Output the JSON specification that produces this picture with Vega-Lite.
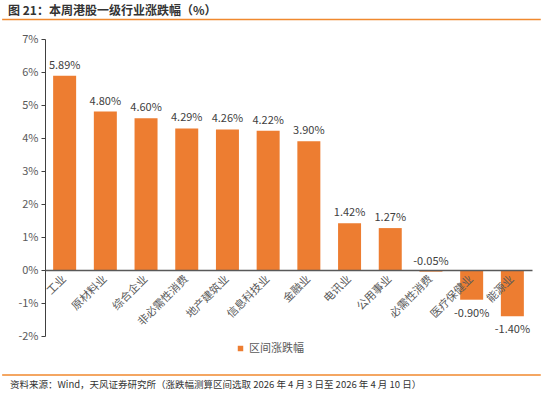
{
  "$schema": "https://vega.github.io/schema/vega-lite/v6.json",
  "width": 487,
  "height": 297,
  "autosize": {"type": "none"},
  "padding": {"left": 45, "top": 39, "right": 18, "bottom": 58},
  "background": "white",
  "config": {
    "font": "Noto Sans CJK SC",
    "view": {"stroke": null},
    "locale": {"number": {"decimal": ".", "thousands": ",", "grouping": [3], "currency": ["", ""], "minus": "-"}},
    "axisY": {
      "title": null, "format": ".0%", "grid": false, "domainColor": "#404040", "tickColor": "#404040",
      "tickSize": 4, "labelColor": "#595959", "labelFontSize": 11, "labelPadding": 3, "labelOverlap": false
    }
  },
  "title": {
    "text": "图 21：本周港股一级行业涨跌幅（%）",
    "anchor": "start",
    "frame": "group",
    "dx": -37,
    "offset": 1,
    "fontSize": 12,
    "fontWeight": "bold",
    "color": "#333333"
  },
  "data": {
    "values": [
      {"cat": "工业", "v": 0.0589},
      {"cat": "原材料业", "v": 0.048},
      {"cat": "综合企业", "v": 0.046},
      {"cat": "非必需性消费", "v": 0.0429},
      {"cat": "地产建筑业", "v": 0.0426},
      {"cat": "信息科技业", "v": 0.0422},
      {"cat": "金融业", "v": 0.039},
      {"cat": "电讯业", "v": 0.0142},
      {"cat": "公用事业", "v": 0.0127},
      {"cat": "必需性消费", "v": -0.0005},
      {"cat": "医疗保健业", "v": -0.009},
      {"cat": "能源业", "v": -0.014}
    ]
  },
  "resolve": {"scale": {"x": "independent"}},
  "layer": [
    {
      "layer": [
        {
          "mark": {"type": "bar", "color": "#ED7D31"},
          "encoding": {
            "x": {
              "field": "cat", "type": "nominal", "sort": null,
              "scale": {"paddingInner": 0.435, "paddingOuter": 0.2},
              "axis": {
                "title": null, "offset": -66, "labelAngle": -45, "labelAlign": "right",
                "labelBaseline": "middle", "ticks": false, "domainColor": "#595959",
                "domainWidth": 1.5, "labelPadding": 7, "labelFontSize": 11,
                "labelColor": "#595959", "zindex": 1
              }
            },
            "y": {
              "field": "v", "type": "quantitative",
              "scale": {"domain": [-0.02, 0.07], "nice": false, "zero": false},
              "axis": {"values": [-0.02, -0.01, 0, 0.01, 0.02, 0.03, 0.04, 0.05, 0.06, 0.07]}
            },
            "color": {
              "datum": "区间涨跌幅",
              "scale": {"range": ["#ED7D31"]},
              "legend": {
                "title": null, "orient": "none", "legendX": 190, "legendY": 304,
                "symbolType": "square", "symbolSize": 30, "symbolStrokeWidth": 0,
                "labelFontSize": 11, "labelColor": "#595959", "labelOffset": 3
              }
            }
          }
        },
        {
          "transform": [{"filter": "datum.v > -0.001"}],
          "mark": {"type": "text", "baseline": "bottom", "dy": -5, "fontSize": 11, "color": "#404040"},
          "encoding": {
            "x": {"field": "cat", "type": "nominal", "sort": null},
            "y": {"field": "v", "type": "quantitative", "axis": {"values": [-0.02, -0.01, 0, 0.01, 0.02, 0.03, 0.04, 0.05, 0.06, 0.07]}},
            "text": {"field": "v", "format": ".2%"}
          }
        },
        {
          "transform": [{"filter": "datum.v <= -0.001"}],
          "mark": {"type": "text", "baseline": "top", "dy": 8, "fontSize": 11, "color": "#404040"},
          "encoding": {
            "x": {"field": "cat", "type": "nominal", "sort": null},
            "y": {"field": "v", "type": "quantitative", "axis": {"values": [-0.02, -0.01, 0, 0.01, 0.02, 0.03, 0.04, 0.05, 0.06, 0.07]}},
            "text": {"field": "v", "format": ".2%"}
          }
        }
      ]
    },
    {
      "data": {"values": [{}]},
      "mark": {"type": "rule", "color": "#F0892E", "strokeWidth": 1.6},
      "encoding": {
        "x": {"datum": -0.088, "type": "quantitative", "scale": {"domain": [0, 1]}, "axis": null},
        "x2": {"datum": 1.018},
        "y": {"datum": 0.0759, "type": "quantitative", "axis": {"values": [-0.02, -0.01, 0, 0.01, 0.02, 0.03, 0.04, 0.05, 0.06, 0.07]}}
      }
    },
    {
      "data": {"values": [{}]},
      "mark": {"type": "rule", "color": "#F0892E", "strokeWidth": 1.6},
      "encoding": {
        "x": {"datum": -0.088, "type": "quantitative", "scale": {"domain": [0, 1]}, "axis": null},
        "x2": {"datum": 1.018},
        "y": {"datum": -0.0318, "type": "quantitative", "axis": {"values": [-0.02, -0.01, 0, 0.01, 0.02, 0.03, 0.04, 0.05, 0.06, 0.07]}}
      }
    },
    {
      "data": {"values": [{}]},
      "mark": {"type": "text", "align": "left", "baseline": "middle", "fontSize": 9.5, "color": "#333333"},
      "encoding": {
        "x": {"datum": -0.072, "type": "quantitative", "scale": {"domain": [0, 1]}, "axis": null},
        "y": {"datum": -0.0349, "type": "quantitative", "axis": {"values": [-0.02, -0.01, 0, 0.01, 0.02, 0.03, 0.04, 0.05, 0.06, 0.07]}},
        "text": {"value": "资料来源：Wind，天风证券研究所（涨跌幅测算区间选取 2026 年 4 月 3 日至 2026 年 4 月 10 日）"}
      }
    }
  ]
}
